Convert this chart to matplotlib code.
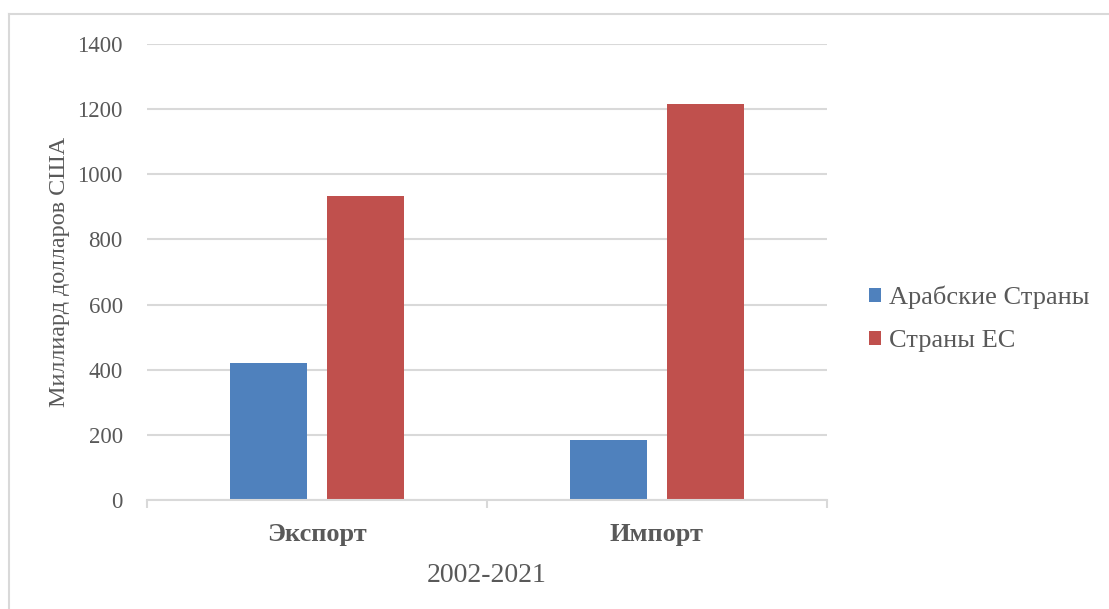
import matplotlib
matplotlib.use("Agg")
import matplotlib.pyplot as plt
from matplotlib.lines import Line2D
from matplotlib.patches import Patch
import numpy as np

categories = ["Экспорт", "Импорт"]
series_names = ["Арабские Страны", "Страны ЕС"]
arab_values = [420, 184]
eu_values = [933, 1215]
y_ticks = [0, 200, 400, 600, 800, 1000, 1200, 1400]
x_title = "2002-2021"
y_title = "Миллиард долларов США"

colors = ["#4F81BD", "#C0504D"]
text_color = "#595959"
grid_color = "#D9D9D9"

plt.rcParams['font.family'] = ['Liberation Serif', 'DejaVu Serif']

W, H = 1109, 609
fig = plt.figure(figsize=(W/100, H/100), dpi=100)
ax = fig.add_axes([147/W, 1-500/H, (827-147)/W, (500-44)/H])

x = np.arange(len(categories))
w = 0.2265
gap = 0.059
off = (w + gap) / 2
ax.bar(x - off, arab_values, width=w, color=colors[0], zorder=3, label=series_names[0])
ax.bar(x + off, eu_values, width=w, color=colors[1], zorder=3, label=series_names[1])

ax.set_xlim(-0.5, len(categories) - 0.5)
ax.set_ylim(0, 1400)
ax.set_yticks(y_ticks)
ax.set_yticklabels([str(v) for v in y_ticks])
ax.yaxis.grid(True, color=grid_color, linewidth=1.5, zorder=0)
ax.set_axisbelow(True)
for s in ["top", "right", "left"]:
    ax.spines[s].set_visible(False)
ax.spines["bottom"].set_color(grid_color)
ax.spines["bottom"].set_linewidth(1.5)
ax.spines["bottom"].set_zorder(4)

ax.tick_params(axis="y", length=0, pad=17.5, labelsize=16.5, labelcolor=text_color)
ax.set_xticks(x)
ax.set_xticklabels(categories, fontweight="bold")
ax.tick_params(axis="x", length=0, pad=16.5, labelsize=19, labelcolor=text_color)
ax.set_xticks(np.arange(len(categories) + 1) - 0.5, minor=True)
ax.tick_params(axis="x", which="minor", length=6, width=1.5, color=grid_color)

ax.set_xlabel(x_title, fontsize=20, color=text_color, va="center")
ax.xaxis.set_label_coords(0.5, -(575-500)/456)
ax.set_ylabel(y_title, fontsize=17.4, color=text_color, va="center")
ax.yaxis.set_label_coords(-(147-60)/680, 0.5)

handles = [Patch(facecolor=c, edgecolor="none") for c in colors]
leg = fig.legend(handles, series_names, loc="center left",
                 bbox_to_anchor=(869/W, 1-319/H), frameon=False, borderpad=0,
                 borderaxespad=0,
                 prop={'size': 19}, handlelength=0.45, handleheight=0.45,
                 handletextpad=0.3, labelspacing=0.78, labelcolor=text_color)

# outer chart border (top and left visible)
fig.add_artist(Line2D([9/W, 9/W], [0, 1-14/H], color=grid_color, linewidth=1.5, transform=fig.transFigure))
fig.add_artist(Line2D([9/W, 1], [1-14/H, 1-14/H], color=grid_color, linewidth=1.5, transform=fig.transFigure))

fig.savefig("out.png", dpi=100)
